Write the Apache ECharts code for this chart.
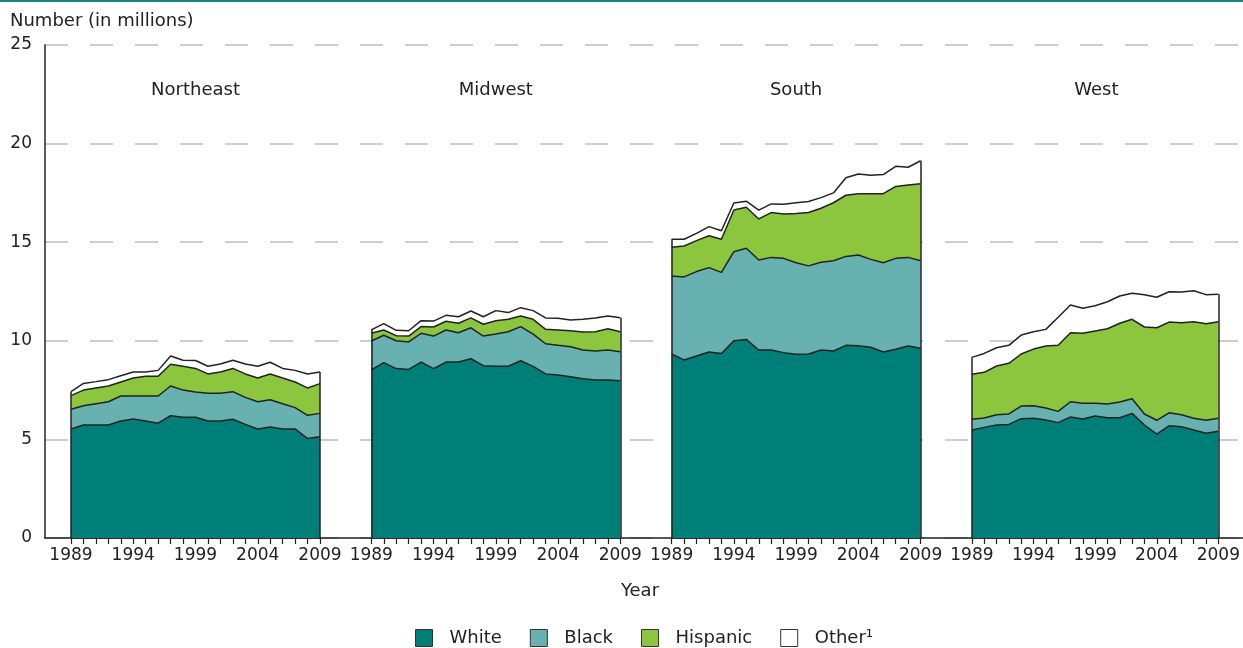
<!DOCTYPE html>
<html>
<head>
<meta charset="utf-8">
<script src="https://cdn.jsdelivr.net/npm/echarts@6/dist/echarts.min.js"></script>
<style>
  html, body { margin: 0; padding: 0; background: #fff; }
  #box { width: 1243px; height: 648px; }
</style>
</head>
<body>
<div id="box"></div>
<script>
// years on each panel's x axis
var years = ['1989','1990','1991','1992','1993','1994','1995','1996','1997','1998','1999',
             '2000','2001','2002','2003','2004','2005','2006','2007','2008','2009'];
var regions = ['Northeast', 'Midwest', 'South', 'West'];
var yTicks = [0, 5, 10, 15, 20, 25];

// millions (stacked: White, Black, Hispanic, Other)
var neWhite = [5.53,5.73,5.73,5.73,5.93,6.03,5.93,5.82,6.20,6.12,6.12,5.93,5.93,6.02,5.76,5.53,5.63,5.53,5.53,5.04,5.14];
var neBlack = [1.00,0.98,1.08,1.18,1.27,1.17,1.27,1.38,1.51,1.38,1.28,1.41,1.41,1.40,1.37,1.38,1.38,1.28,1.08,1.18,1.18];
var neHisp  = [0.69,0.79,0.80,0.80,0.71,0.91,1.00,1.00,1.10,1.21,1.20,0.98,1.08,1.18,1.19,1.20,1.31,1.30,1.30,1.39,1.51];
var neOther = [0.20,0.34,0.32,0.32,0.32,0.31,0.22,0.30,0.42,0.30,0.40,0.39,0.40,0.41,0.50,0.60,0.59,0.49,0.59,0.71,0.59];

var mwWhite = [8.52,8.89,8.59,8.55,8.92,8.59,8.92,8.92,9.09,8.74,8.71,8.71,8.99,8.70,8.32,8.27,8.18,8.08,8.01,8.01,7.98];
var mwBlack = [1.47,1.39,1.41,1.39,1.46,1.65,1.63,1.49,1.57,1.50,1.63,1.75,1.73,1.64,1.53,1.50,1.52,1.45,1.47,1.52,1.47];
var mwHisp  = [0.39,0.27,0.26,0.30,0.34,0.46,0.44,0.48,0.50,0.60,0.68,0.63,0.54,0.75,0.73,0.78,0.81,0.92,0.98,1.08,1.01];
var mwOther = [0.17,0.32,0.27,0.27,0.30,0.30,0.30,0.33,0.35,0.38,0.51,0.34,0.42,0.44,0.58,0.59,0.55,0.64,0.70,0.65,0.71];

var soWhite = [9.33,9.03,9.23,9.43,9.36,10.00,10.07,9.53,9.53,9.40,9.32,9.33,9.53,9.48,9.77,9.75,9.67,9.43,9.57,9.74,9.62];
var soBlack = [3.96,4.21,4.28,4.28,4.11,4.52,4.62,4.57,4.70,4.78,4.64,4.47,4.45,4.58,4.51,4.60,4.46,4.53,4.61,4.49,4.44];
var soHisp  = [1.45,1.57,1.57,1.62,1.68,2.11,2.08,2.08,2.27,2.25,2.50,2.71,2.74,2.94,3.10,3.11,3.33,3.50,3.65,3.67,3.91];
var soOther = [0.41,0.34,0.37,0.46,0.43,0.36,0.31,0.45,0.44,0.49,0.54,0.55,0.54,0.50,0.89,1.00,0.94,0.97,1.02,0.90,1.16];

var weWhite = [5.48,5.61,5.73,5.76,6.05,6.07,5.98,5.85,6.14,6.03,6.19,6.10,6.10,6.32,5.73,5.27,5.69,5.64,5.48,5.31,5.41];
var weBlack = [0.54,0.48,0.52,0.53,0.64,0.64,0.61,0.57,0.77,0.80,0.64,0.70,0.80,0.74,0.56,0.70,0.66,0.61,0.59,0.66,0.66];
var weHisp  = [2.28,2.31,2.47,2.57,2.64,2.87,3.15,3.35,3.50,3.55,3.67,3.81,3.99,4.03,4.41,4.69,4.60,4.67,4.90,4.90,4.90];
var weOther = [0.86,0.96,0.93,0.91,0.96,0.88,0.84,1.42,1.41,1.27,1.28,1.37,1.38,1.32,1.64,1.55,1.54,1.55,1.57,1.47,1.39];

var groups = ['White', 'Black', 'Hispanic', 'Other\u00B9'];
var colors = ['#007f79', '#67b2b1', '#8cc63f', '#ffffff'];
var panelData = [
    [neWhite, neBlack, neHisp, neOther],
    [mwWhite, mwBlack, mwHisp, mwOther],
    [soWhite, soBlack, soHisp, soOther],
    [weWhite, weBlack, weHisp, weOther]
];

(function () {
    var FONT = '"DejaVu Sans", sans-serif';
    var chart = echarts.init(document.getElementById('box'));

    var plotTop = 45, plotH = 493;
    var panelLeft0 = 71, panelStep = 300.3, panelW = 249;

    var grids = [{left: 45, right: 0, top: plotTop, height: plotH}];
    var xAxes = [{
        gridIndex: 0, type: 'value', min: 0, max: 1,
        axisLine: {show: true, lineStyle: {color: '#222', width: 1.5}},
        axisTick: {show: false}, axisLabel: {show: false}, splitLine: {show: false}
    }];
    var yAxes = [{
        gridIndex: 0, type: 'value', min: yTicks[0], max: yTicks[yTicks.length - 1], interval: 5,
        axisLine: {show: true, lineStyle: {color: '#222', width: 1.5}},
        axisTick: {show: false},
        axisLabel: {color: '#222', fontSize: 17, fontFamily: FONT, margin: 13},
        splitLine: {show: true, lineStyle: {color: '#bdbdbd', width: 1.5, type: [23, 22]}}
    }];
    var series = [];
    var graphics = [
        {type: 'rect', shape: {x: 0, y: 0, width: 1243, height: 2}, style: {fill: '#16857d'}},
        {type: 'text', x: 10, y: 21, style: {text: 'Number (in millions)', font: '18px ' + FONT, fill: '#222', verticalAlign: 'middle'}},
        {type: 'text', x: 640, y: 591, style: {text: 'Year', font: '18px ' + FONT, fill: '#222', align: 'center', verticalAlign: 'middle'}}
    ];

    regions.forEach(function (name, k) {
        var gi = k + 1;
        var left = panelLeft0 + panelStep * k;
        grids.push({left: left, width: panelW, top: plotTop, height: plotH});
        xAxes.push({
            gridIndex: gi, type: 'category', data: years, boundaryGap: false,
            axisLine: {show: true, lineStyle: {color: '#222', width: 1.5}},
            axisTick: {show: true, interval: 0, length: 6, lineStyle: {color: '#222', width: 1.2}},
            axisLabel: {interval: 4, color: '#222', fontSize: 17, fontFamily: FONT, margin: 9},
            splitLine: {show: false}
        });
        yAxes.push({gridIndex: gi, type: 'value', min: 0, max: 25, show: false});
        graphics.push({type: 'text', x: left + panelW / 2, y: 90,
            style: {text: name, font: '18px ' + FONT, fill: '#222', align: 'center', verticalAlign: 'middle'}});

        var arrs = panelData[k];
        var first = 0, last = 0;
        arrs.forEach(function (a) { first += a[0]; last += a[a.length - 1]; });
        arrs.forEach(function (a, j) {
            var s = {
                name: groups[j], type: 'line', stack: name,
                xAxisIndex: gi, yAxisIndex: gi,
                data: a, symbol: 'none',
                lineStyle: {color: '#222', width: 1.5},
                itemStyle: {color: colors[j]},
                areaStyle: {color: colors[j], opacity: 1}
            };
            if (j === arrs.length - 1) {
                // vertical outline at both ends of the stack
                s.markLine = {
                    silent: true, symbol: ['none', 'none'], label: {show: false},
                    lineStyle: {color: '#222', width: 1.5, type: 'solid'},
                    data: [
                        [{coord: [years[0], 0]}, {coord: [years[0], first]}],
                        [{coord: [years[years.length - 1], 0]}, {coord: [years[years.length - 1], last]}]
                    ]
                };
            }
            series.push(s);
        });
    });

    chart.setOption({
        animation: false,
        grid: grids,
        xAxis: xAxes,
        yAxis: yAxes,
        legend: {
            data: groups, left: 410, top: 624, icon: 'rect',
            itemWidth: 17, itemHeight: 17, itemGap: 28,
            itemStyle: {borderColor: '#333', borderWidth: 1},
            textStyle: {color: '#222', fontSize: 18, fontFamily: FONT, padding: [0, 0, 0, 12]}
        },
        graphic: graphics,
        series: series
    });
})();
</script>
</body>
</html>
